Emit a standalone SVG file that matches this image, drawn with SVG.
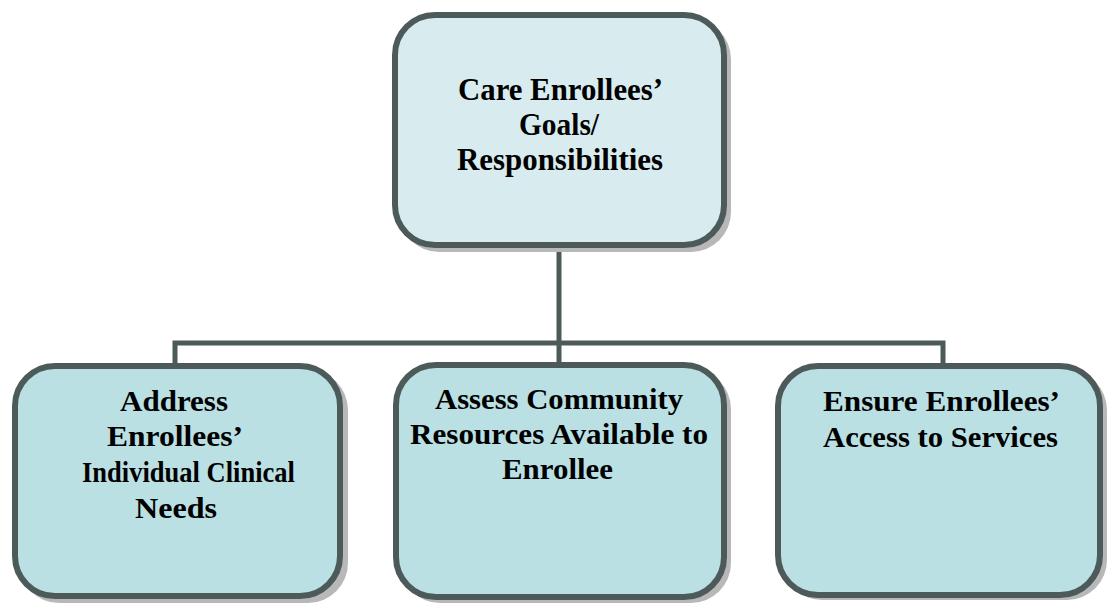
<svg xmlns="http://www.w3.org/2000/svg" width="1107" height="606" viewBox="0 0 1107 606">
<style>
.shadow{fill:#b8b8b8;stroke:none}
.box{stroke:#4d5a5a;stroke-width:6}
.top{fill:#d8ecef}
.bot{fill:#bae0e4}
.conn{fill:none;stroke:#4d5a5a;stroke-width:5}
text{font-family:"Liberation Serif","Times New Roman",serif;font-weight:bold;font-size:29px;fill:#000}
#top-node text{font-size:30.5px}
</style>
<rect width="1107" height="606" fill="#fff"/>
<g id="connectors">
<path class="conn" d="M559,248 V343"/>
<path class="conn" d="M175,365 V343 H943 V365"/>
<path class="conn" d="M559,343 V365"/>
</g>
<g id="top-node">
<rect class="shadow" x="399" y="19" width="332" height="233" rx="40"/>
<rect class="box top" x="395" y="15" width="329" height="230" rx="40"/>
<text x="458" y="100" textLength="205" lengthAdjust="spacingAndGlyphs">Care Enrollees’</text>
<text x="519" y="135" textLength="80" lengthAdjust="spacingAndGlyphs">Goals/</text>
<text x="457" y="170" textLength="206" lengthAdjust="spacingAndGlyphs">Responsibilities</text>
</g>
<g id="node-clinical">
<rect class="shadow" x="19" y="370" width="329" height="233" rx="40"/>
<rect class="box bot" x="15" y="366" width="325" height="230" rx="40"/>
<text x="120" y="411" textLength="108" lengthAdjust="spacingAndGlyphs">Address</text>
<text x="107" y="446" textLength="136" lengthAdjust="spacingAndGlyphs">Enrollees’</text>
<text x="82" y="482" textLength="213" lengthAdjust="spacingAndGlyphs">Individual Clinical</text>
<text x="135" y="518" textLength="82" lengthAdjust="spacingAndGlyphs">Needs</text>
</g>
<g id="node-community">
<rect class="shadow" x="400" y="369" width="331" height="234" rx="40"/>
<rect class="box bot" x="396" y="365" width="328" height="232" rx="40"/>
<text x="435" y="409" textLength="248" lengthAdjust="spacingAndGlyphs">Assess Community</text>
<text x="410" y="444" textLength="298" lengthAdjust="spacingAndGlyphs">Resources Available to</text>
<text x="502" y="479" textLength="111" lengthAdjust="spacingAndGlyphs">Enrollee</text>
</g>
<g id="node-access">
<rect class="shadow" x="782" y="370" width="325" height="230" rx="40"/>
<rect class="box bot" x="778" y="366" width="322" height="229" rx="40"/>
<text x="823" y="411" textLength="237" lengthAdjust="spacingAndGlyphs">Ensure Enrollees’</text>
<text x="823" y="447" textLength="235" lengthAdjust="spacingAndGlyphs">Access to Services</text>
</g>
</svg>
